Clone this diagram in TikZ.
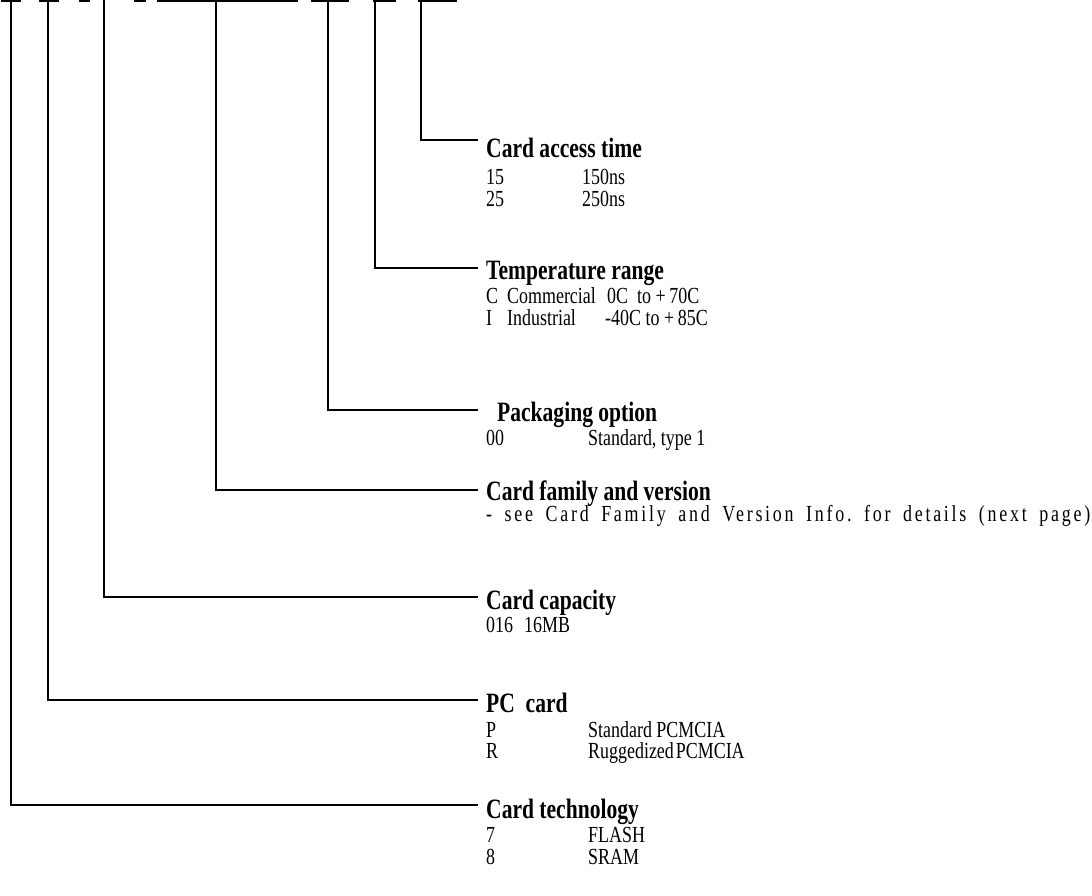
\documentclass[tikz,border=0pt]{standalone}
\usepackage{fontspec}
\setmainfont{Liberation Serif}[FakeStretch=0.78]
\newfontfamily\headfam{Liberation Serif}[FakeStretch=0.77]
\usepackage{tikz}

\begin{document}
\begin{tikzpicture}[x=1pt, y=-1pt,
        head/.style  = {anchor=base west, inner sep=0pt, font=\headfam\fontsize{28}{30}\selectfont\bfseries},
        entry/.style = {anchor=base west, inner sep=0pt, font=\fontsize{23}{25}\selectfont},
        lead/.style  = {line width=1.7pt},
    ]
    \useasboundingbox (0,0) rectangle (1092,895);
    % clipped part number along the top edge
    \foreach \a/\b in {1/21, 39/59, 79/90, 134/146, 157/298, 311/349, 373/396, 418/457}
        \draw[line width=1.5pt] (\a,0.75) -- (\b,0.75);

    % headings
    \node[head] (access) at (486,157) {Card access time};
    \node[head] (temp)   at (486,279) {Temperature range};
    \node[head] (pack)   at (497,421) {Packaging option};
    \node[head] (family) at (486,500) {Card family and version};
    \node[head] (cap)    at (486,609) {Card capacity};
    \node[head] (pc)     at (486,712) {PC\ \ card};
    \node[head] (tech)   at (486,818) {Card technology};

    % entries
    \node[entry] (access-1a) at (486,184.5) {15};
    \node[entry] (access-1b) at (582,184.5) {150ns};
    \node[entry] (access-2a) at (486,206.5) {25};
    \node[entry] (access-2b) at (582,206.5) {250ns};
    \node[entry] (temp-1a) at (486,303.5) {C};
    \node[entry] (temp-1b) at (507,303.5) {Commercial};
    \node[entry] (temp-1c) at (607,303.5) {0C\ \ to +\,70C};
    \node[entry] (temp-2a) at (486,325.5) {I};
    \node[entry] (temp-2b) at (507,325.5) {Industrial};
    \node[entry] (temp-2c) at (605,325.5) {-40C to +\,85C};
    \node[entry] (pack-1a) at (486,445.5) {00};
    \node[entry] (pack-1b) at (588,445.5) {Standard, type 1};
    \node[entry] (family-1) at (486,521.5)
        {\frenchspacing\makebox[604pt][s]{\addfontfeature{LetterSpace=12}- see Card Family and Version Info. for details (next page)}};
    \node[entry] (cap-1a) at (486,632.5) {016};
    \node[entry] (cap-1b) at (524,632.5) {16MB};
    \node[entry] (pc-1a) at (486,737.5) {P};
    \node[entry] (pc-1b) at (588,737.5) {Standard PCMCIA};
    \node[entry] (pc-2a) at (486,758.5) {R};
    \node[entry] (pc-2b) at (588,758.5) {Ruggedized\hspace{2pt}PCMCIA};
    \node[entry] (tech-1a) at (486,842.5) {7};
    \node[entry] (tech-1b) at (588,842.5) {FLASH};
    \node[entry] (tech-2a) at (486,864.5) {8};
    \node[entry] (tech-2b) at (588,864.5) {SRAM};

    % leads from the part number down to each heading
    \coordinate (tech-top)   at (11,0);
    \coordinate (pc-top)     at (48,0);
    \coordinate (cap-top)    at (104,0);
    \coordinate (family-top) at (216,0);
    \coordinate (pack-top)   at (328,0);
    \coordinate (temp-top)   at (375,0);
    \coordinate (access-top) at (421,0);
    \foreach \n/\dy in {access/17, temp/11, family/10, cap/12, pc/12, tech/13}
        \draw[lead] (\n-top) |- ([xshift=-8pt, yshift=\dy pt]\n.base west);
    \draw[lead] (pack-top) |- ([xshift=-19pt, yshift=11pt]pack.base west);
\end{tikzpicture}
\end{document}
